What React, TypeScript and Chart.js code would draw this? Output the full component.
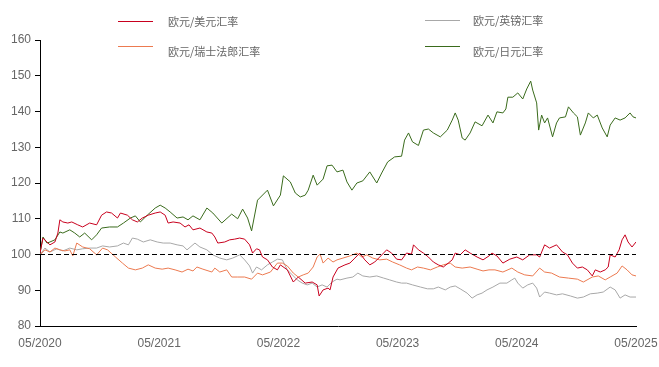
import React, { useEffect, useRef } from "react";
import { Chart, registerables } from "chart.js";

Chart.register(...registerables);

// time = months since 05/2020, value = index (05/2020 = 100)
const eurUsd: [number, number][] = [
  [0, 100.4], [0.3, 104.6], [0.7, 103.5], [1.0, 102.7], [1.5, 103.5], [1.8, 106.0], [2.0, 109.7], [2.3, 109.1],
  [2.8, 108.8], [3.2, 109.1], [3.8, 108.3], [4.3, 107.7], [5.0, 108.8], [5.7, 108.3], [6.2, 111.0], [6.7, 111.9],
  [7.2, 111.6], [7.8, 110.2], [8.1, 111.6], [8.8, 111.0], [9.3, 109.7], [9.8, 109.1], [10.3, 110.2], [10.9, 111.0],
  [11.6, 111.6], [12.1, 111.9], [12.6, 111.0], [12.9, 108.8], [13.4, 109.1], [14.1, 108.8], [14.6, 107.7], [15.0, 108.3],
  [15.4, 106.9], [16.1, 107.4], [16.8, 106.3], [17.3, 106.0], [17.6, 104.9], [17.9, 103.2], [18.6, 103.5], [19.1, 104.1],
  [19.6, 104.3], [20.1, 104.6], [20.6, 104.3], [21.1, 102.7], [21.4, 100.4], [21.8, 101.6], [22.1, 101.3], [22.4, 99.3],
  [22.9, 98.5], [23.4, 96.5], [23.9, 95.7], [24.2, 97.1], [24.9, 95.7], [25.5, 92.3], [26.0, 93.7], [26.7, 92.0],
  [27.4, 92.3], [27.9, 91.5], [28.1, 88.4], [28.5, 90.1], [29.0, 90.6], [29.2, 90.1], [29.5, 93.7], [30.0, 96.2],
  [30.7, 97.1], [31.2, 97.6], [31.7, 99.0], [32.2, 100.4], [32.7, 98.5], [33.2, 97.1], [33.7, 97.9], [34.2, 99.3],
  [34.9, 101.3], [35.4, 100.4], [35.9, 98.7], [36.4, 98.5], [36.9, 100.4], [37.4, 100.1], [37.6, 102.7], [38.1, 101.3],
  [38.6, 100.4], [39.1, 99.3], [39.6, 97.9], [40.1, 97.1], [40.6, 96.5], [41.1, 97.6], [41.5, 98.5], [41.8, 100.4],
  [42.3, 99.9], [42.8, 101.3], [43.3, 100.4], [44.0, 99.3], [44.6, 98.5], [45.2, 99.6], [45.5, 100.4], [46.0, 99.6],
  [46.6, 97.6], [47.3, 98.7], [48.0, 99.3], [48.6, 98.5], [49.3, 99.9], [50.0, 99.9], [50.3, 99.3], [50.8, 102.7],
  [51.3, 101.8], [52.0, 102.7], [52.6, 100.7], [53.1, 99.9], [53.6, 97.6], [54.1, 96.2], [54.6, 96.5], [55.1, 95.7],
  [55.6, 94.0], [55.9, 95.7], [56.4, 95.1], [56.9, 95.7], [57.2, 96.5], [57.4, 99.9], [57.9, 99.3], [58.3, 101.3],
  [58.6, 104.1], [58.9, 105.5], [59.2, 103.5], [59.6, 102.1], [60, 103.5],
];

const eurChf: [number, number][] = [
  [0, 99.9], [0.5, 101.3], [1.0, 100.7], [1.5, 101.8], [2.0, 101.3], [2.5, 101.0], [3.0, 101.3], [3.3, 99.6],
  [3.7, 103.2], [4.3, 102.1], [5.0, 101.6], [5.7, 99.9], [6.3, 101.8], [6.8, 101.3], [7.6, 99.3], [8.3, 97.6],
  [8.9, 96.2], [9.6, 95.7], [10.3, 96.2], [10.9, 97.1], [11.6, 96.2], [12.3, 95.9], [12.9, 96.2], [13.6, 95.7],
  [14.3, 95.1], [14.9, 95.9], [15.4, 95.4], [15.8, 96.5], [16.4, 95.9], [17.3, 95.1], [17.6, 96.2], [18.1, 95.1],
  [18.8, 95.7], [19.3, 93.7], [19.9, 93.7], [20.6, 93.7], [21.3, 93.1], [21.9, 94.8], [22.4, 94.3], [23.2, 95.1],
  [23.9, 97.6], [24.4, 97.6], [24.9, 96.8], [25.5, 94.8], [26.0, 93.7], [26.5, 94.3], [27.0, 94.8], [27.5, 96.5],
  [27.9, 99.3], [28.2, 100.1], [28.5, 97.6], [29.0, 99.0], [29.5, 97.9], [29.9, 98.5], [30.5, 99.0], [31.2, 99.6],
  [31.9, 100.4], [32.4, 99.3], [32.9, 99.9], [33.5, 99.0], [34.2, 98.5], [34.9, 98.7], [35.5, 97.9], [36.2, 97.1],
  [36.9, 96.2], [37.4, 95.7], [38.0, 96.5], [38.6, 96.2], [39.3, 95.7], [40.0, 96.5], [40.6, 97.1], [41.3, 97.6],
  [41.8, 96.5], [42.5, 96.2], [43.3, 96.5], [44.0, 95.9], [44.6, 95.4], [45.2, 95.7], [45.8, 95.7], [46.6, 95.1],
  [47.5, 96.2], [48.1, 95.1], [48.8, 94.3], [49.6, 94.0], [50.3, 96.2], [50.8, 95.1], [51.5, 94.8], [52.3, 93.7],
  [53.2, 93.4], [54.1, 93.1], [54.7, 92.3], [55.6, 93.7], [56.2, 94.0], [56.9, 92.9], [57.4, 93.7], [58.1, 94.8],
  [58.6, 96.8], [59.1, 95.7], [59.6, 94.3], [60, 94.0],
];

const eurGbp: [number, number][] = [
  [0, 99.9], [0.5, 101.8], [1.0, 100.7], [1.7, 101.6], [2.3, 101.0], [3.0, 101.8], [3.7, 101.3], [4.3, 101.6],
  [5.0, 101.8], [5.7, 101.8], [6.3, 102.4], [7.0, 102.1], [7.8, 102.4], [8.4, 103.2], [8.9, 102.7], [9.3, 104.6],
  [9.8, 104.3], [10.4, 103.5], [11.1, 104.1], [11.8, 103.5], [12.4, 103.2], [13.1, 103.2], [13.8, 102.7], [14.4, 102.4],
  [14.8, 101.3], [15.6, 103.2], [16.1, 102.1], [16.8, 101.3], [17.4, 99.9], [18.1, 99.0], [18.8, 98.5], [19.4, 99.0],
  [20.1, 99.9], [20.6, 98.5], [21.1, 96.8], [21.4, 94.8], [21.8, 96.5], [22.3, 95.7], [22.9, 97.1], [23.4, 97.9],
  [23.9, 98.7], [24.4, 98.5], [24.9, 95.7], [25.4, 94.3], [25.9, 92.9], [26.4, 92.0], [26.9, 91.5], [27.4, 92.0],
  [27.9, 90.9], [28.4, 91.5], [28.9, 90.9], [29.4, 92.3], [29.9, 93.1], [30.2, 92.9], [30.9, 93.4], [31.5, 93.7],
  [32.0, 94.8], [32.5, 94.0], [33.2, 93.7], [33.9, 94.0], [34.6, 93.4], [35.2, 92.9], [35.9, 92.3], [36.4, 92.0],
  [36.9, 92.0], [37.5, 91.5], [38.3, 90.9], [39.0, 90.4], [39.6, 90.4], [40.1, 90.9], [40.8, 90.1], [41.3, 90.9],
  [41.8, 91.2], [42.3, 90.4], [43.0, 89.2], [43.5, 87.8], [44.0, 88.7], [44.5, 89.2], [45.0, 90.1], [45.6, 90.9],
  [46.3, 92.0], [47.0, 92.0], [47.5, 92.9], [47.8, 93.4], [48.1, 92.0], [48.6, 90.6], [49.1, 91.5], [49.6, 92.0],
  [50.0, 90.6], [50.3, 88.1], [50.8, 89.5], [51.3, 89.2], [52.0, 88.7], [52.6, 89.0], [53.4, 88.4], [54.1, 87.8],
  [54.7, 88.1], [55.4, 89.0], [56.1, 89.2], [56.7, 89.5], [57.4, 90.9], [57.9, 90.1], [58.4, 87.8], [58.9, 88.7],
  [59.4, 88.1], [60, 88.1],
];

const eurJpy: [number, number][] = [
  [0, 100.4], [0.3, 104.9], [0.7, 103.2], [1.0, 103.5], [1.5, 104.1], [2.0, 106.3], [2.3, 106.0], [3.0, 106.9],
  [3.5, 106.0], [4.0, 104.9], [4.5, 106.0], [5.2, 104.1], [5.7, 105.5], [6.2, 107.4], [7.0, 107.7], [7.8, 107.7],
  [8.4, 108.8], [9.1, 110.2], [9.6, 110.8], [10.1, 109.1], [10.8, 111.0], [11.6, 113.0], [12.1, 113.8], [12.6, 113.0],
  [13.1, 111.9], [13.8, 110.2], [14.4, 110.5], [14.9, 109.7], [15.4, 110.8], [16.1, 109.7], [16.8, 113.0], [17.4, 111.6],
  [18.3, 108.8], [19.3, 111.3], [19.9, 110.0], [20.4, 112.7], [20.9, 110.2], [21.3, 106.6], [21.9, 115.2], [22.9, 118.0],
  [23.5, 113.6], [24.2, 116.6], [24.5, 122.0], [25.2, 120.3], [25.7, 117.2], [26.2, 116.1], [26.7, 116.6], [27.0, 118.0],
  [27.5, 122.2], [27.9, 119.4], [28.5, 121.1], [28.9, 124.8], [29.4, 125.0], [29.9, 123.1], [30.5, 123.6], [30.9, 120.3],
  [31.4, 118.0], [31.9, 120.0], [32.5, 120.6], [33.2, 123.1], [33.9, 120.0], [34.4, 122.8], [35.0, 125.9], [35.7, 127.3],
  [36.4, 127.5], [36.7, 132.0], [37.1, 134.0], [37.5, 131.5], [38.1, 130.5], [38.6, 134.8], [39.1, 135.1], [39.6, 134.0],
  [40.3, 132.9], [41.0, 134.8], [41.5, 137.6], [41.8, 139.6], [42.1, 137.6], [42.5, 132.6], [42.8, 132.0], [43.3, 134.0],
  [43.8, 137.1], [44.5, 136.0], [45.1, 139.0], [45.6, 136.8], [46.0, 139.9], [46.6, 139.6], [46.9, 140.7], [47.1, 144.0],
  [47.6, 144.0], [48.1, 145.2], [48.6, 143.5], [49.0, 146.3], [49.4, 148.5], [49.6, 146.0], [50.0, 142.4], [50.2, 134.8],
  [50.5, 139.0], [50.8, 136.8], [51.1, 138.2], [51.6, 132.9], [52.0, 136.8], [52.3, 138.2], [52.9, 138.5], [53.2, 141.3],
  [53.7, 139.6], [54.1, 138.5], [54.4, 133.4], [54.9, 136.8], [55.2, 139.6], [55.7, 138.2], [56.1, 139.0], [56.6, 135.4],
  [57.1, 132.9], [57.4, 136.2], [57.9, 138.2], [58.4, 137.6], [58.9, 138.2], [59.4, 139.6], [59.7, 138.5], [60, 138.2],
];

const baseline: [number, number][] = [[0, 100], [60, 100]];

const yTicks = [80, 90, 100, 110, 120, 130, 140, 150, 160];
const xTickYears = [2020, 2021, 2022, 2023, 2024, 2025];

const labels = {
  usd: "欧元/美元汇率",
  gbp: "欧元/英镑汇率",
  chf: "欧元/瑞士法郎汇率",
  jpy: "欧元/日元汇率",
};

const COLORS = {
  usd: "#C8001E",
  chf: "#EC7A50",
  gbp: "#A8A8A8",
  jpy: "#3A6B1C",
};

const toXY = (arr: [number, number][]) => arr.map(([x, y]) => ({ x, y }));

export default function App() {
  const ref = useRef<HTMLCanvasElement | null>(null);

  useEffect(() => {
    if (!ref.current) return;
    const chart = new Chart(ref.current, {
      type: "line",
      data: {
        datasets: [
          { label: "100", data: toXY(baseline), borderColor: "#000", borderWidth: 1, borderDash: [5, 3], pointRadius: 0 },
          { label: labels.usd, data: toXY(eurUsd), borderColor: COLORS.usd, borderWidth: 1, pointRadius: 0 },
          { label: labels.chf, data: toXY(eurChf), borderColor: COLORS.chf, borderWidth: 1, pointRadius: 0 },
          { label: labels.gbp, data: toXY(eurGbp), borderColor: COLORS.gbp, borderWidth: 1, pointRadius: 0 },
          { label: labels.jpy, data: toXY(eurJpy), borderColor: COLORS.jpy, borderWidth: 1, pointRadius: 0 },
        ],
      },
      options: {
        animation: false,
        responsive: true,
        maintainAspectRatio: false,
        layout: { padding: { top: 40, right: 23, left: 0, bottom: 0 } },
        plugins: { legend: { display: false }, tooltip: { enabled: false } },
        elements: { line: { tension: 0 } },
        scales: {
          x: {
            type: "linear",
            min: 0,
            max: 60,
            afterBuildTicks: (scale: any) => {
              scale.ticks = xTickYears.map((_, i) => ({ value: i * 12 }));
            },
            afterFit: (scale: any) => {
              scale.height = 41;
              scale.paddingLeft = 0;
              scale.paddingRight = 0;
            },
            ticks: {
              autoSkip: false,
              maxRotation: 0,
              padding: 10,
              color: "#666",
              font: { family: "'Liberation Sans', Arial, sans-serif", size: 12 },
              callback: (v: any) => "05/" + xTickYears[Math.round(Number(v) / 12)],
            },
            grid: { display: false, drawTicks: false },
            border: { display: true, color: "#000", width: 1 },
          },
          y: {
            min: 80,
            max: 160,
            afterBuildTicks: (scale: any) => {
              scale.ticks = yTicks.map((v) => ({ value: v }));
            },
            afterFit: (scale: any) => {
              scale.width = 40;
              scale.paddingTop = 0;
              scale.paddingBottom = 0;
            },
            ticks: {
              padding: 4,
              color: "#666",
              font: { family: "'Liberation Sans', Arial, sans-serif", size: 12 },
            },
            grid: { drawOnChartArea: false, drawTicks: true, tickLength: 5, color: "#000" },
            border: { display: true, color: "#000", width: 1 },
          },
        },
      },
    });
    return () => chart.destroy();
  }, []);

  const legendItems = [
    { text: labels.usd, color: COLORS.usd, lx: 118, tx: 168, ly: 21, ty: 21 },
    { text: labels.gbp, color: COLORS.gbp, lx: 425, tx: 473, ly: 20, ty: 20 },
    { text: labels.chf, color: COLORS.chf, lx: 118, tx: 168, ly: 46, ty: 51 },
    { text: labels.jpy, color: COLORS.jpy, lx: 425, tx: 473, ly: 46, ty: 51 },
  ];

  return (
    <div style={{ position: "fixed", left: 0, top: 0, width: 659, height: 367, background: "#fff" }}>
      <canvas ref={ref} />
      {legendItems.map((it) => (
        <React.Fragment key={it.text}>
          <div
            style={{
              position: "absolute",
              left: it.lx,
              top: it.ly,
              width: 35,
              height: 1,
              background: it.color,
            }}
          />
          <div
            style={{
              position: "absolute",
              left: it.tx,
              top: it.ty,
              transform: "translateY(-50%)",
              fontFamily: "'Noto Sans CJK SC', sans-serif",
              fontSize: 11,
              lineHeight: "14px",
              color: "#666",
              whiteSpace: "nowrap",
            }}
          >
            {it.text}
          </div>
        </React.Fragment>
      ))}
    </div>
  );
}
